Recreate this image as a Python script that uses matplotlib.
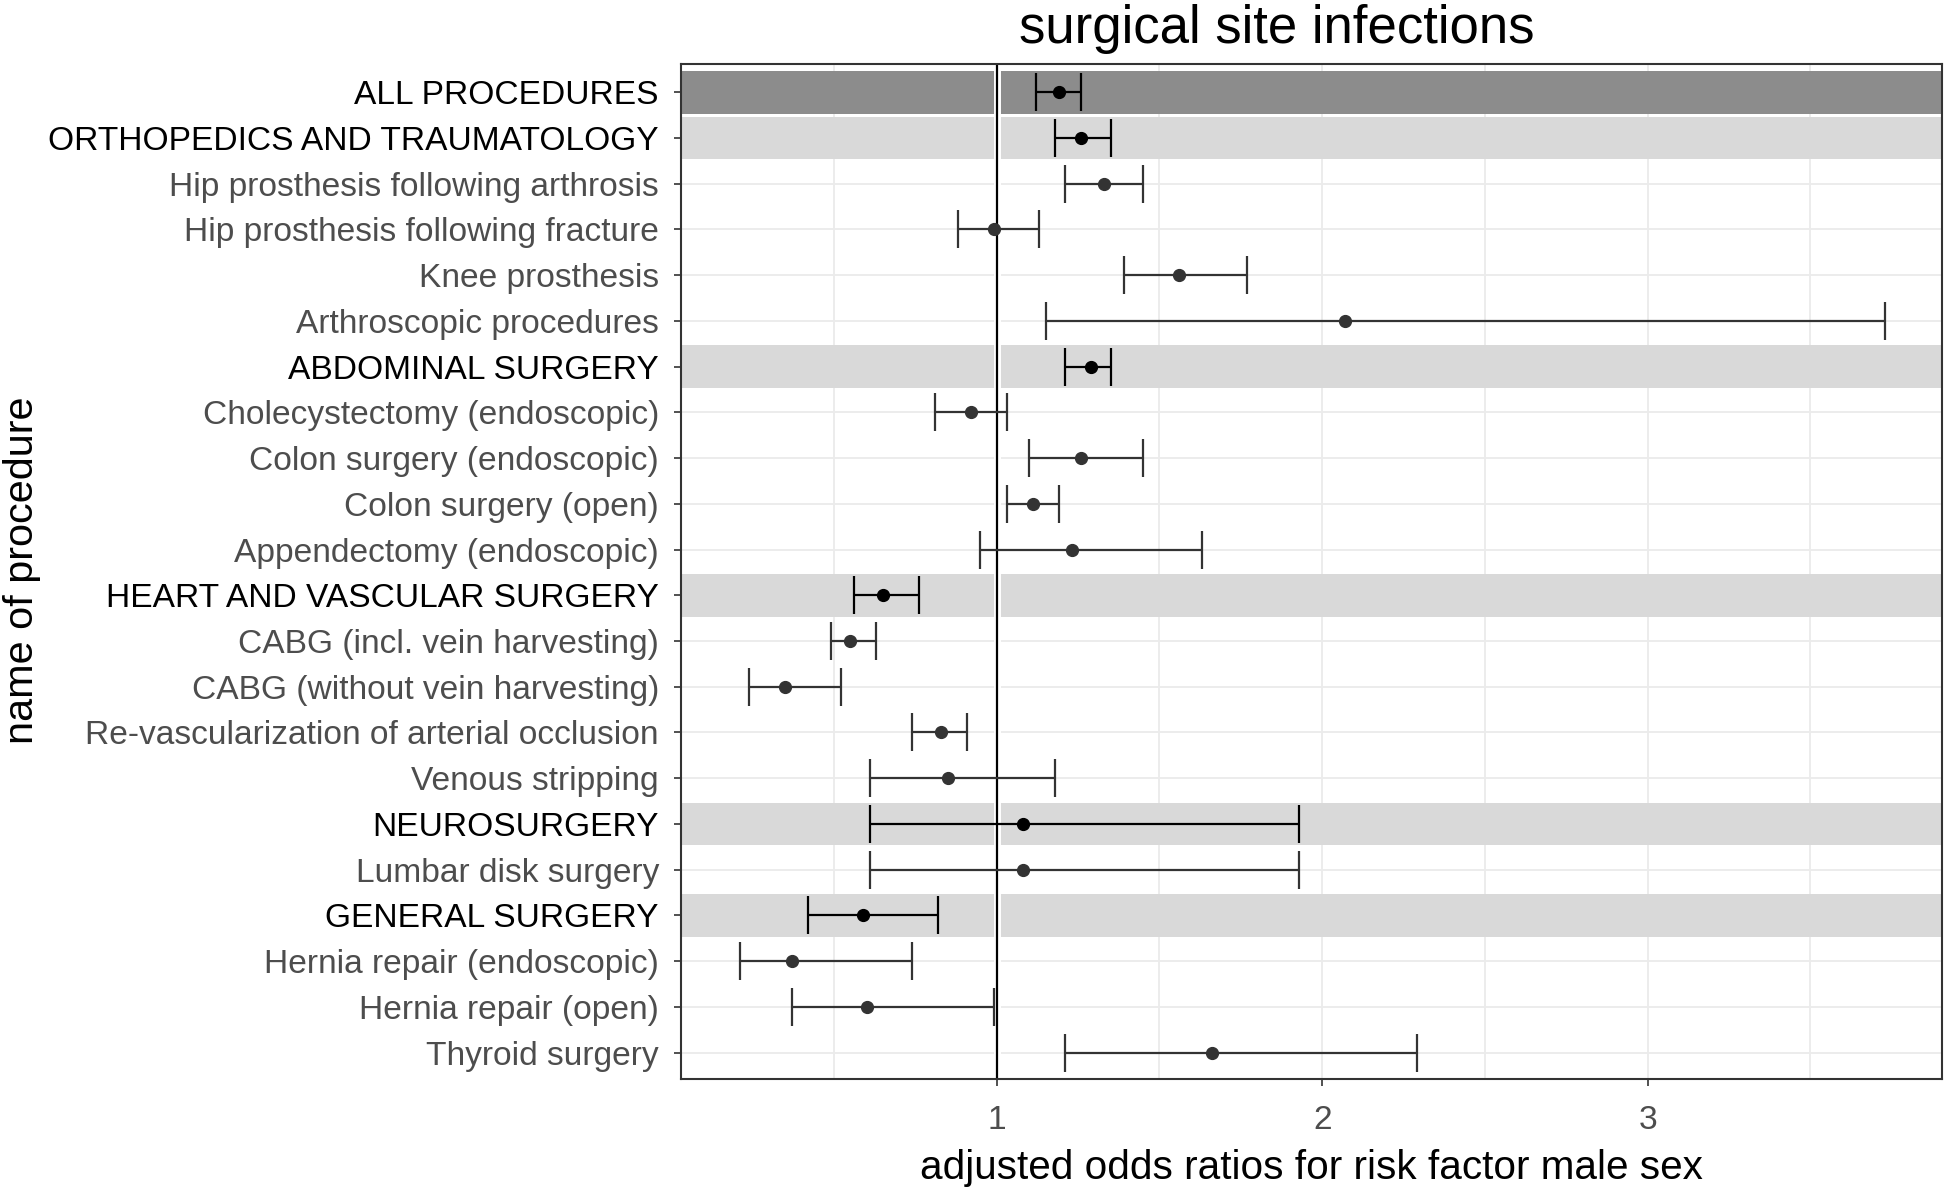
import matplotlib.pyplot as plt

plt.rcParams['font.family'] = ['Liberation Sans', 'DejaVu Sans']

procedures = [
    'ALL PROCEDURES',
    'ORTHOPEDICS AND TRAUMATOLOGY',
    'Hip prosthesis following arthrosis',
    'Hip prosthesis following fracture',
    'Knee prosthesis',
    'Arthroscopic procedures',
    'ABDOMINAL SURGERY',
    'Cholecystectomy (endoscopic)',
    'Colon surgery (endoscopic)',
    'Colon surgery (open)',
    'Appendectomy (endoscopic)',
    'HEART AND VASCULAR SURGERY',
    'CABG (incl. vein harvesting)',
    'CABG (without vein harvesting)',
    'Re-vascularization of arterial occlusion',
    'Venous stripping',
    'NEUROSURGERY',
    'Lumbar disk surgery',
    'GENERAL SURGERY',
    'Hernia repair (endoscopic)',
    'Hernia repair (open)',
    'Thyroid surgery',
]
odds_ratio = [1.19, 1.26, 1.33, 0.99, 1.56, 2.07, 1.29, 0.92, 1.26, 1.11, 1.23,
              0.65, 0.55, 0.35, 0.83, 0.85, 1.08, 1.08, 0.59, 0.37, 0.60, 1.66]
ci_low = [1.12, 1.18, 1.21, 0.88, 1.39, 1.15, 1.21, 0.81, 1.10, 1.03, 0.95,
          0.56, 0.49, 0.24, 0.74, 0.61, 0.61, 0.61, 0.42, 0.21, 0.37, 1.21]
ci_high = [1.26, 1.35, 1.45, 1.13, 1.77, 3.73, 1.35, 1.03, 1.45, 1.19, 1.63,
           0.76, 0.63, 0.52, 0.91, 1.18, 1.93, 1.93, 0.82, 0.74, 0.99, 2.29]
headers = ['ALL PROCEDURES', 'ORTHOPEDICS AND TRAUMATOLOGY', 'ABDOMINAL SURGERY',
           'HEART AND VASCULAR SURGERY', 'NEUROSURGERY', 'GENERAL SURGERY']

n = len(procedures)
ypos = [n - 1 - i for i in range(n)]

fig = plt.figure(figsize=(19.46, 11.91), dpi=100)
ax = fig.add_axes([0.350, 0.094, 0.648, 0.8523])

# Hintergrundstreifen fuer Gruppen
for name, y in zip(procedures, ypos):
    if name in headers:
        col = '#8c8c8c' if name == 'ALL PROCEDURES' else '#d9d9d9'
        ax.axhspan(y - 0.465, y + 0.465, color=col, lw=0, zorder=1)

ax.axvline(1, color='white', lw=5, zorder=1.5)
ax.axvline(1, color='black', lw=1.6, zorder=2)

for name, y, m, lo, hi in zip(procedures, ypos, odds_ratio, ci_low, ci_high):
    c = 'black' if name in headers else '#333333'
    ax.errorbar(m, y, xerr=[[m - lo], [hi - m]], fmt='o', color=c, ms=8.5,
                elinewidth=1.6, capsize=13.5, capthick=1.6, zorder=3)

ax.set_xlim(0.03, 3.905)
ax.set_ylim(-0.58, n - 0.38)
ax.set_xticks([1, 2, 3])
ax.set_xticks([0.5, 1.5, 2.5, 3.5], minor=True)
ax.set_yticks(ypos)
ax.set_yticklabels(procedures)
for lbl in ax.get_yticklabels():
    lbl.set_color('black' if lbl.get_text() in headers else '#4d4d4d')
ax.tick_params(axis='both', which='major', labelsize=24.1, length=5, width=1.2,
               color='#333333', pad=11)
ax.tick_params(axis='x', labelcolor='#4d4d4d', pad=14)
ax.tick_params(axis='x', which='minor', length=0)
ax.grid(True, which='both', color='#ebebeb', lw=1.3, zorder=0)
ax.set_axisbelow(True)
for s in ax.spines.values():
    s.set_color('#333333')
    s.set_linewidth(1.5)

ax.set_xlabel('adjusted odds ratios for risk factor male sex', fontsize=29.2, labelpad=9)
fig.text(0.0115, 0.521, 'name of procedure', rotation=90, fontsize=29.8,
         ha='center', va='center')
fig.text(0.656, 0.964, 'surgical site infections', fontsize=38, ha='center', va='baseline')

plt.savefig('out.png')
